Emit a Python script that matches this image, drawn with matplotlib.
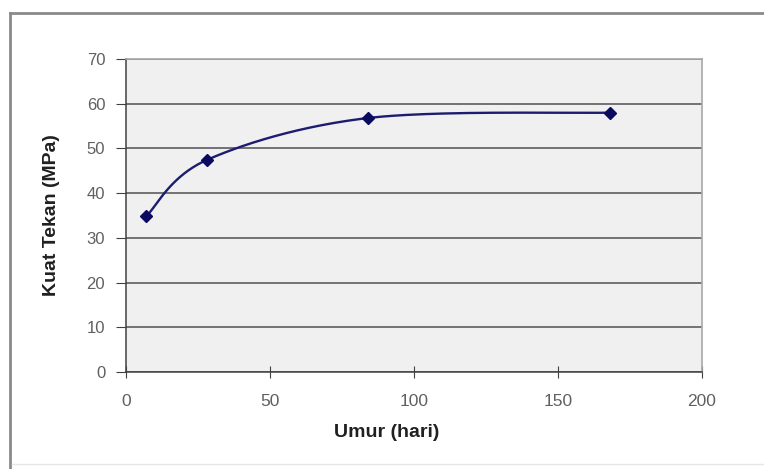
import numpy as np
import matplotlib
matplotlib.use("Agg")
import matplotlib.pyplot as plt
from matplotlib.lines import Line2D

umur = [7, 28, 84, 168]
kuat_tekan = [34.8, 47.4, 56.8, 58.0]
x_ticks = [0, 50, 100, 150, 200]
y_ticks = [0, 10, 20, 30, 40, 50, 60, 70]

plt.rcParams['font.family'] = ['Liberation Sans', 'DejaVu Sans']

def excel_smooth(xs, ys, n=60):
    xs = np.asarray(xs, float); ys = np.asarray(ys, float)
    px, py = [], []
    m = len(xs)
    for i in range(m - 1):
        p0 = np.array([xs[max(i - 1, 0)], ys[max(i - 1, 0)]])
        p1 = np.array([xs[i], ys[i]])
        p2 = np.array([xs[i + 1], ys[i + 1]])
        p3 = np.array([xs[min(i + 2, m - 1)], ys[min(i + 2, m - 1)]])
        c1 = p1 + (p2 - p0) / 6.0
        c2 = p2 - (p3 - p1) / 6.0
        t = np.linspace(0, 1, n)[:, None]
        b = ((1 - t) ** 3) * p1 + 3 * ((1 - t) ** 2) * t * c1 + 3 * (1 - t) * t ** 2 * c2 + t ** 3 * p2
        px.extend(b[:, 0]); py.extend(b[:, 1])
    return np.array(px), np.array(py)

fig = plt.figure(figsize=(7.64, 4.69), dpi=100)
fig.patch.set_facecolor('white')

# outer chart border
W, H = 764, 469
fig.add_artist(Line2D([10 / W, 10 / W], [0, 1 - 13 / H], transform=fig.transFigure, color='#8a8a8a', lw=2))
fig.add_artist(Line2D([10 / W, 1], [1 - 13 / H, 1 - 13 / H], transform=fig.transFigure, color='#8a8a8a', lw=2))
fig.add_artist(Line2D([12 / W, 1], [1 - 464 / H, 1 - 464 / H], transform=fig.transFigure, color='#e6e6e6', lw=1))

ax = fig.add_axes([126 / W, 1 - 372 / H, (702 - 126) / W, (372 - 59) / H])
ax.set_facecolor('#f0f0f0')
ax.set_xlim(0, 200)
ax.set_ylim(0, 70)
ax.set_xticks(x_ticks)
ax.set_yticks(y_ticks)
ax.yaxis.grid(True, color='#505050', lw=1.1)
ax.set_axisbelow(True)

for s in ['left', 'bottom']:
    ax.spines[s].set_color('#404040')
    ax.spines[s].set_linewidth(1.1)
for s in ['top', 'right']:
    ax.spines[s].set_color('#a8a8a8')
    ax.spines[s].set_linewidth(1.2)

ax.tick_params(axis='y', direction='out', length=7, color='#404040', labelcolor='#606060', labelsize=12, pad=8)
ax.tick_params(axis='x', direction='inout', length=8, color='#404040', labelcolor='#606060', labelsize=12.5, pad=12)

sx, sy = excel_smooth(umur, kuat_tekan)
ax.plot(sx, sy, color='#1c1c70', lw=1.7, zorder=3)
ax.plot(umur, kuat_tekan, linestyle='none', marker='D', markersize=6, color='#0a0a60', zorder=4)

ax.set_xlabel('Umur (hari)', fontsize=14, fontweight='bold', color='#202020', va='center')
ax.xaxis.set_label_coords((387 - 126) / 576, (372 - 432) / 313)
ax.set_ylabel('Kuat Tekan (MPa)', fontsize=14, fontweight='bold', color='#202020', va='center')
ax.yaxis.set_label_coords((52 - 126) / 576, 0.5)

fig.savefig('out.png', dpi=100)
